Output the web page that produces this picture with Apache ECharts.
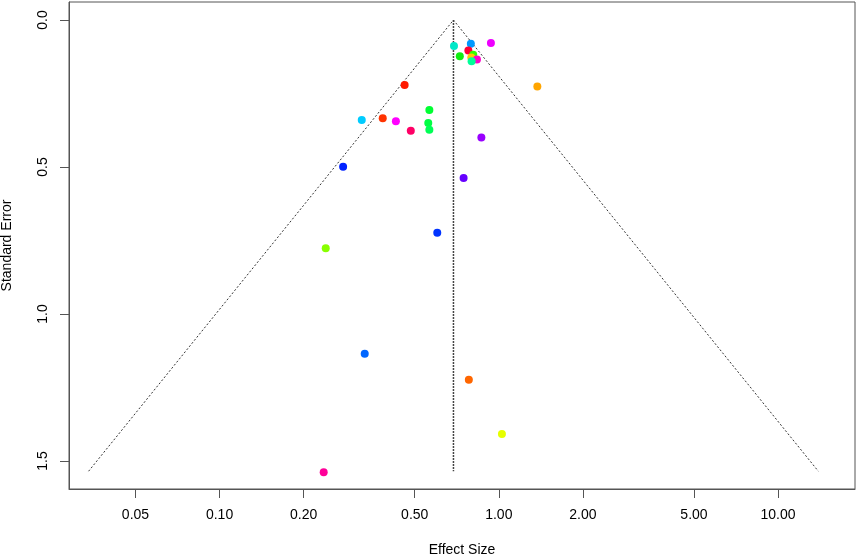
<!DOCTYPE html>
<html>
<head>
<meta charset="utf-8">
<script src="https://cdn.jsdelivr.net/npm/echarts@6/dist/echarts.min.js"></script>
<style>
  html, body { margin: 0; padding: 0; background: #fff; }
  #funnel { width: 858px; height: 558px; }
</style>
</head>
<body>
<div id="funnel"></div>
<script>
// effect sizes (ratio scale) and standard errors
const effectSize = [0.691, 0.794, 0.937, 0.778, 0.725, 0.810, 0.797, 0.835, 0.799, 1.374,
                    0.460, 0.564, 0.323, 0.384, 0.428, 0.559, 0.484, 0.564, 0.866, 0.277,
                    0.748, 0.602, 0.240, 0.331, 0.781, 1.026, 0.236];
const stdError = [0.088, 0.081, 0.078, 0.104, 0.123, 0.118, 0.127, 0.134, 0.140, 0.226,
                  0.221, 0.306, 0.340, 0.334, 0.344, 0.350, 0.377, 0.373, 0.400, 0.499,
                  0.537, 0.724, 0.776, 1.135, 1.224, 1.408, 1.538];
const pointColors = ['#00E8C8', '#0099FF', '#EE00FF', '#FF0033', '#11EE11', '#33FF00', '#FFCC00', '#FF00CC', '#00FF99', '#FFA500',
                     '#FF1A00', '#00FF33', '#00CCFF', '#FF3300', '#FF00FF', '#00FF44', '#FF0066', '#00FF55', '#9900FF', '#0022FF',
                     '#6600FF', '#0033FF', '#88FF00', '#0066FF', '#FF6600', '#E6FF00', '#FF0099'];
const xTicks = [0.05, 0.10, 0.20, 0.50, 1.00, 2.00, 5.00, 10.00];
const yTicks = [0.0, 0.5, 1.0, 1.5];
const pooled = 0.688;   // summary estimate (apex of funnel)
const seMax = 1.535;

const xMin = -3.544, xMax = 2.937;   // log scale limits
const yMin = -0.0614, yMax = 1.5954;

const chart = echarts.init(document.getElementById('funnel'));
const c = Math.log(pooled);
const font = 'Liberation Sans, Arial, sans-serif';
const axisGrey = '#555';

chart.setOption({
  animation: false,
  grid: {
    left: 69, right: 3, top: 2, bottom: 69,
    outerBoundsMode: 'none', containLabel: false,
    show: true, borderColor: axisGrey, borderWidth: 1
  },
  xAxis: {
    type: 'value',
    min: xMin, max: xMax,
    name: 'Effect Size', nameLocation: 'middle', nameGap: 54,
    nameTextStyle: { fontFamily: font, fontSize: 14, color: '#000' },
    axisLine: { show: true, onZero: false, lineStyle: { color: axisGrey, width: 1 } },
    axisTick: { show: true, length: 9, lineStyle: { color: axisGrey, width: 1 }, customValues: xTicks.map(Math.log) },
    axisLabel: {
      show: true, customValues: xTicks.map(Math.log), margin: 19,
      fontFamily: font, fontSize: 14, color: '#000',
      formatter: v => Math.exp(v).toFixed(2)
    },
    splitLine: { show: false }
  },
  yAxis: {
    type: 'value',
    inverse: true,
    min: yMin, max: yMax,
    name: 'Standard Error', nameLocation: 'middle', nameGap: 55,
    nameTextStyle: { fontFamily: font, fontSize: 14, color: '#000' },
    axisLine: { show: true, onZero: false, lineStyle: { color: axisGrey, width: 1 } },
    axisTick: { show: true, length: 9, lineStyle: { color: axisGrey, width: 1 }, customValues: yTicks },
    axisLabel: {
      show: true, customValues: yTicks, rotate: 90, margin: 19,
      fontFamily: font, fontSize: 14, color: '#000',
      formatter: v => v.toFixed(1)
    },
    splitLine: { show: false }
  },
  series: [
    {
      type: 'line',
      data: [[c - 1.96 * seMax, seMax], [c, 0], [c + 1.96 * seMax, seMax]],
      symbol: 'none',
      lineStyle: { color: '#333', width: 1, type: [2, 2] },
      z: 1
    },
    {
      type: 'line',
      data: [[c, 0], [c, seMax]],
      symbol: 'none',
      lineStyle: { color: '#444', width: 1.5, type: [2, 1] },
      z: 1
    },
    {
      type: 'scatter',
      symbolSize: 8,
      data: effectSize.map((es, i) => ({
        value: [Math.log(es), stdError[i]],
        itemStyle: { color: pointColors[i], opacity: 1 }
      })),
      z: 3
    }
  ]
});
</script>
</body>
</html>
